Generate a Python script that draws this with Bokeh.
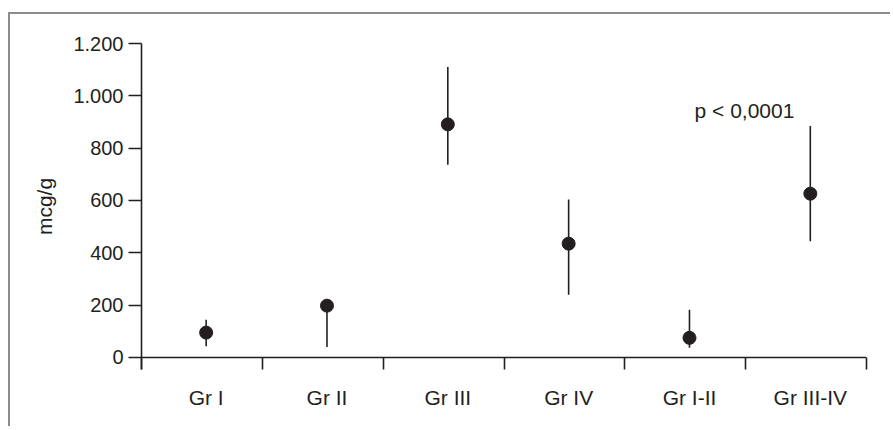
import numpy as np
from bokeh.plotting import figure
from bokeh.models import Range1d, FixedTicker, Span, Label, ColumnDataSource
from bokeh.embed import file_html
from bokeh.resources import INLINE

groups = ["Gr I", "Gr II", "Gr III", "Gr IV", "Gr I-II", "Gr III-IV"]
means = [95, 198, 891, 435, 75, 626]
upper = [144, 198, 1110, 604, 182, 885]
lower = [43, 40, 737, 240, 37, 444]
y_ticks = [0, 200, 400, 600, 800, 1000, 1200]
y_tick_labels = ["0", "200", "400", "600", "800", "1.000", "1.200"]
annotation = "p < 0,0001"

INK = "#231f20"
FONT = "Liberation Sans"

xc = [round(i + 0.535, 3) for i in range(len(groups))]
src = ColumnDataSource(dict(x=xc, m=means, lo=lower, hi=upper))

p = figure(width=882, height=414, x_range=Range1d(0, 6), y_range=Range1d(-46, 1200),
           output_backend="svg", toolbar_location=None,
           min_border_left=131, min_border_right=26, min_border_top=29, min_border_bottom=59)
p.styles = {"border-top": "2px solid #8c8c8c", "border-left": "2px solid #8c8c8c",
            "margin-top": "12px", "margin-left": "8px"}
p.grid.visible = False
p.outline_line_color = None

p.segment(x0="x", y0="lo", x1="x", y1="hi", source=src, line_color=INK, line_width=1.6)
p.scatter(x="x", y="m", source=src, size=13, fill_color=INK, line_color=INK)

p.add_layout(Span(location=0, dimension="width", line_color=INK, line_width=1.6))

xa = p.xaxis[0]
xa.ticker = FixedTicker(ticks=xc, minor_ticks=list(range(len(groups) + 1)))
xa.major_label_overrides = {x: g for x, g in zip(xc, groups)}
xa.axis_line_color = None
xa.major_tick_out = 0
xa.major_tick_in = 0
xa.minor_tick_in = 12
xa.minor_tick_out = 0
xa.minor_tick_line_color = INK
xa.minor_tick_line_width = 1.6
xa.major_label_standoff = 16
xa.major_label_text_font = FONT
xa.major_label_text_font_size = "21px"
xa.major_label_text_color = INK

ya = p.yaxis[0]
ya.ticker = FixedTicker(ticks=y_ticks, minor_ticks=[])
ya.major_label_overrides = {t: l for t, l in zip(y_ticks, y_tick_labels)}
ya.axis_line_color = INK
ya.axis_line_width = 1.6
ya.major_tick_out = 13
ya.major_tick_in = 0
ya.major_tick_line_color = INK
ya.major_tick_line_width = 1.6
ya.major_label_standoff = 5
ya.major_label_text_font = FONT
ya.major_label_text_font_size = "20px"
ya.major_label_text_color = INK
ya.axis_label = "mcg/g"
ya.axis_label_text_font = FONT
ya.axis_label_text_font_size = "21px"
ya.axis_label_text_font_style = "normal"
ya.axis_label_text_color = INK
ya.axis_label_standoff = 14

p.add_layout(Label(x=4.99, y=945, text=annotation, text_align="center",
                   text_baseline="alphabetic", text_font=FONT, text_font_size="21px",
                   text_color=INK))

open("out.html", "w").write(file_html(p, INLINE))
